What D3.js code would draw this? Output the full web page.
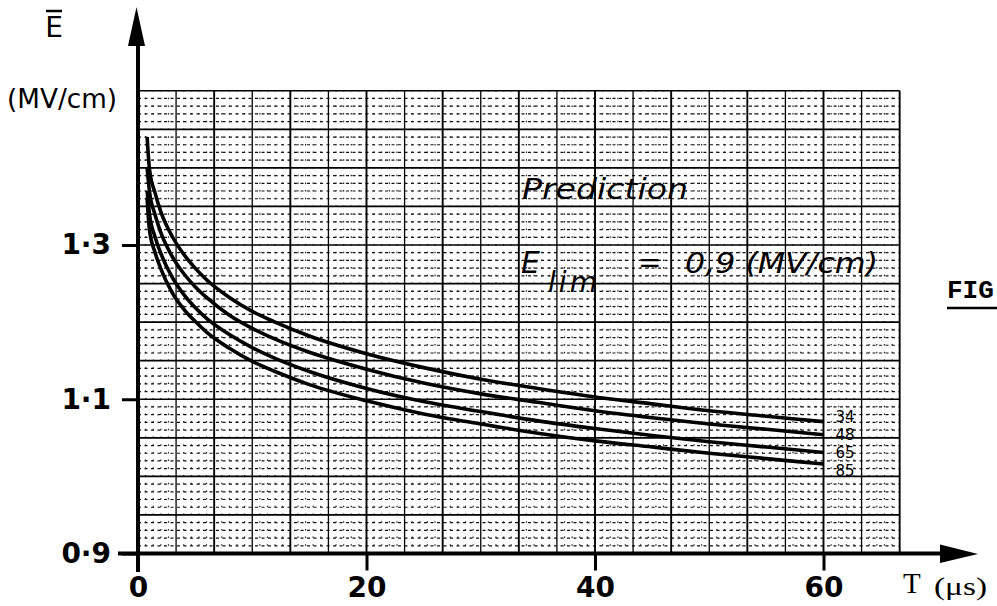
<!DOCTYPE html>
<html>

<head>
    <meta charset="UTF-8">
    <style>
        body { margin: 0; background: #fff; }
        svg { display: block; }
        .tick text { font-family: "DejaVu Sans", sans-serif; fill: #000; }
    </style>
</head>

<body>
    <svg></svg>
    <script src="https://d3js.org/d3.v7.min.js"></script>

    <script>

        let width = 997, height = 606;

        // Data
        const tValues = [0.8, 1, 1.5, 2, 3, 4, 5, 6, 8, 10, 12, 15, 20, 25, 30, 35, 40, 45, 50, 55, 60];
        const curveNames = ["34", "48", "65", "85"];
        const e34 = [1.44, 1.399, 1.367, 1.343, 1.311, 1.288, 1.270, 1.255, 1.232, 1.214, 1.200, 1.182, 1.159, 1.141, 1.126, 1.114, 1.103, 1.094, 1.085, 1.078, 1.071];
        const e48 = [1.40, 1.370, 1.339, 1.316, 1.285, 1.263, 1.246, 1.232, 1.209, 1.192, 1.178, 1.161, 1.139, 1.121, 1.107, 1.096, 1.085, 1.076, 1.068, 1.061, 1.054];
        const e65 = [1.37, 1.341, 1.310, 1.289, 1.258, 1.236, 1.219, 1.205, 1.184, 1.167, 1.153, 1.136, 1.114, 1.097, 1.084, 1.072, 1.062, 1.053, 1.045, 1.038, 1.031];
        const e85 = [1.36, 1.320, 1.290, 1.269, 1.238, 1.217, 1.201, 1.187, 1.166, 1.149, 1.136, 1.119, 1.098, 1.081, 1.068, 1.056, 1.046, 1.038, 1.030, 1.023, 1.016];
        const xTicks = [0, 20, 40, 60];
        const yTicks = [0.9, 1.1, 1.3];

        let svg = d3.select("svg")
            .attr("width", width)
            .attr("height", height)
            .attr("viewBox", "0 0 " + width + " " + height)

        const x = d3.scaleLinear().domain([0, 60]).range([138, 823.5]);
        const y = d3.scaleLinear().domain([0.9, 1.3]).range([553.5, 245]);

        // grid paper: majors every 10/3 us and 0.05, minors five per major
        const gxMajor = d3.range(0, 21).map(k => k * 10 / 3);
        const gxMinor = d3.range(0, 101).filter(k => k % 5 != 0).map(k => k * 2 / 3);
        const gyMajor = d3.range(0, 13).map(k => 0.9 + k * 0.05);
        const gyMinor = d3.range(0, 61).filter(k => k % 5 != 0).map(k => 0.9 + k * 0.01);
        const xMax = 200 / 3, yMax = 1.5;

        let grid = svg.append("g").attr("class", "grid");

        grid.selectAll(".hmin").data(gyMinor).enter().append("line")
            .attr("x1", x(0)).attr("x2", x(xMax))
            .attr("y1", d => y(d)).attr("y2", d => y(d))
            .attr("stroke", "#111").attr("stroke-width", 1.2)
            .attr("stroke-dasharray", "3,3.5");

        grid.selectAll(".vmin").data(gxMinor).enter().append("line")
            .attr("x1", d => x(d)).attr("x2", d => x(d))
            .attr("y1", y(0.9)).attr("y2", y(yMax))
            .attr("stroke", "#222").attr("stroke-width", 1.2)
            .attr("stroke-dasharray", "1.5,6.2");

        grid.selectAll(".hmaj").data(gyMajor).enter().append("line")
            .attr("x1", x(0)).attr("x2", x(xMax))
            .attr("y1", d => y(d)).attr("y2", d => y(d))
            .attr("stroke", "#000").attr("stroke-width", 1.7);

        grid.selectAll(".vmaj").data(gxMajor).enter().append("line")
            .attr("x1", d => x(d)).attr("x2", d => x(d))
            .attr("y1", y(0.9)).attr("y2", y(yMax))
            .attr("stroke", "#000")
            .attr("stroke-width", (d, i) => i % 2 == 0 ? 1.9 : 1.3);

        // curves
        const series = [e34, e48, e65, e85];
        const line = d3.line()
            .x((d, i) => x(tValues[i]))
            .y(d => y(d))
            .curve(d3.curveMonotoneX);

        svg.append("g").selectAll("path")
            .data(series)
            .enter()
            .append("path")
            .attr("d", line)
            .attr("fill", "none")
            .attr("stroke", "#000")
            .attr("stroke-width", 3.6);

        svg.append("g").selectAll("text")
            .data(series)
            .enter()
            .append("text")
            .attr("x", x(60) + 12)
            .attr("y", (d, i) => [422, 440, 458, 476][i])
            .attr("font-family", "DejaVu Sans, sans-serif")
            .attr("font-size", 15)
            .text((d, i) => curveNames[i]);

        // axes
        const fmt = d => d3.format(".1f")(d).replace(".", "·");

        let yAxis = svg.append("g")
            .attr("transform", "translate(" + x(0) + ",0)")
            .call(d3.axisLeft(y).tickValues(yTicks).tickFormat(fmt).tickSize(16).tickPadding(11));
        yAxis.select(".domain").remove();
        yAxis.selectAll(".tick line").attr("stroke", "#000").attr("stroke-width", 3);
        yAxis.selectAll(".tick text").attr("font-size", 28).attr("font-weight", "bold");

        let xAxis = svg.append("g")
            .attr("transform", "translate(0," + y(0.9) + ")")
            .call(d3.axisBottom(x).tickValues(xTicks).tickFormat(d3.format("d")).tickSize(17).tickPadding(7));
        xAxis.select(".domain").remove();
        xAxis.selectAll(".tick line").attr("stroke", "#000").attr("stroke-width", 3);
        xAxis.selectAll(".tick text").attr("font-size", 28).attr("font-weight", "bold");

        // axis lines with arrows
        svg.append("line")
            .attr("x1", x(0)).attr("x2", x(0))
            .attr("y1", 572).attr("y2", 40)
            .attr("stroke", "#000").attr("stroke-width", 4);
        svg.append("path")
            .attr("d", "M" + (x(0) - 1.5) + ",7 L" + (x(0) - 10) + ",46 L" + (x(0) + 7) + ",46 Z")
            .attr("fill", "#000");

        svg.append("line")
            .attr("x1", 118).attr("x2", 945)
            .attr("y1", y(0.9)).attr("y2", y(0.9))
            .attr("stroke", "#000").attr("stroke-width", 4);
        svg.append("path")
            .attr("d", "M978," + (y(0.9) + 0.5) + " L940," + (y(0.9) - 9) + " L940," + (y(0.9) + 9.5) + " Z")
            .attr("fill", "#000");

        // axis titles
        svg.append("text")
            .attr("x", 54).attr("y", 37)
            .attr("text-anchor", "middle")
            .attr("font-family", "DejaVu Sans, sans-serif")
            .attr("font-size", 28)
            .text("E");
        svg.append("line")
            .attr("x1", 46).attr("x2", 62)
            .attr("y1", 11).attr("y2", 11)
            .attr("stroke", "#000").attr("stroke-width", 2.5);

        svg.append("text")
            .attr("x", 7).attr("y", 108)
            .attr("font-family", "DejaVu Sans, sans-serif")
            .attr("font-size", 27)
            .attr("textLength", 110).attr("lengthAdjust", "spacingAndGlyphs")
            .text("(MV/cm)");

        svg.append("text")
            .attr("x", 903).attr("y", 593)
            .attr("font-family", "Liberation Serif, serif")
            .attr("font-size", 29)
            .text("T");
        svg.append("text")
            .attr("x", 934).attr("y", 595)
            .attr("font-family", "Liberation Serif, serif")
            .attr("font-size", 26)
            .attr("textLength", 53).attr("lengthAdjust", "spacingAndGlyphs")
            .text("(μs)");

        // annotations
        const note = { "font-family": "DejaVu Sans, sans-serif", "font-style": "italic" };

        svg.append("text")
            .attr("x", 522).attr("y", 199)
            .attr("font-family", note["font-family"]).attr("font-style", note["font-style"])
            .attr("font-size", 29)
            .attr("textLength", 166).attr("lengthAdjust", "spacingAndGlyphs")
            .text("Prediction");

        svg.append("text")
            .attr("x", 521).attr("y", 273)
            .attr("font-family", note["font-family"]).attr("font-style", note["font-style"])
            .attr("font-size", 30)
            .text("E");
        svg.append("text")
            .attr("x", 548).attr("y", 292)
            .attr("font-family", note["font-family"]).attr("font-style", note["font-style"])
            .attr("font-size", 28)
            .attr("textLength", 49)
            .text("lim");
        svg.append("text")
            .attr("x", 638).attr("y", 272)
            .attr("font-family", note["font-family"])
            .attr("font-size", 28)
            .text("=");
        svg.append("text")
            .attr("x", 685).attr("y", 273)
            .attr("font-family", note["font-family"]).attr("font-style", note["font-style"])
            .attr("font-size", 28)
            .attr("textLength", 193).attr("lengthAdjust", "spacingAndGlyphs")
            .text("0,9 (MV/cm)");

        svg.append("text")
            .attr("x", 947).attr("y", 298)
            .attr("font-family", "Liberation Mono, monospace")
            .attr("font-weight", "bold")
            .attr("font-size", 26)
            .text("FIG");
        svg.append("line")
            .attr("x1", 947).attr("x2", 997)
            .attr("y1", 308).attr("y2", 308)
            .attr("stroke", "#000").attr("stroke-width", 2.5);
    </script>

</body>

</html>
